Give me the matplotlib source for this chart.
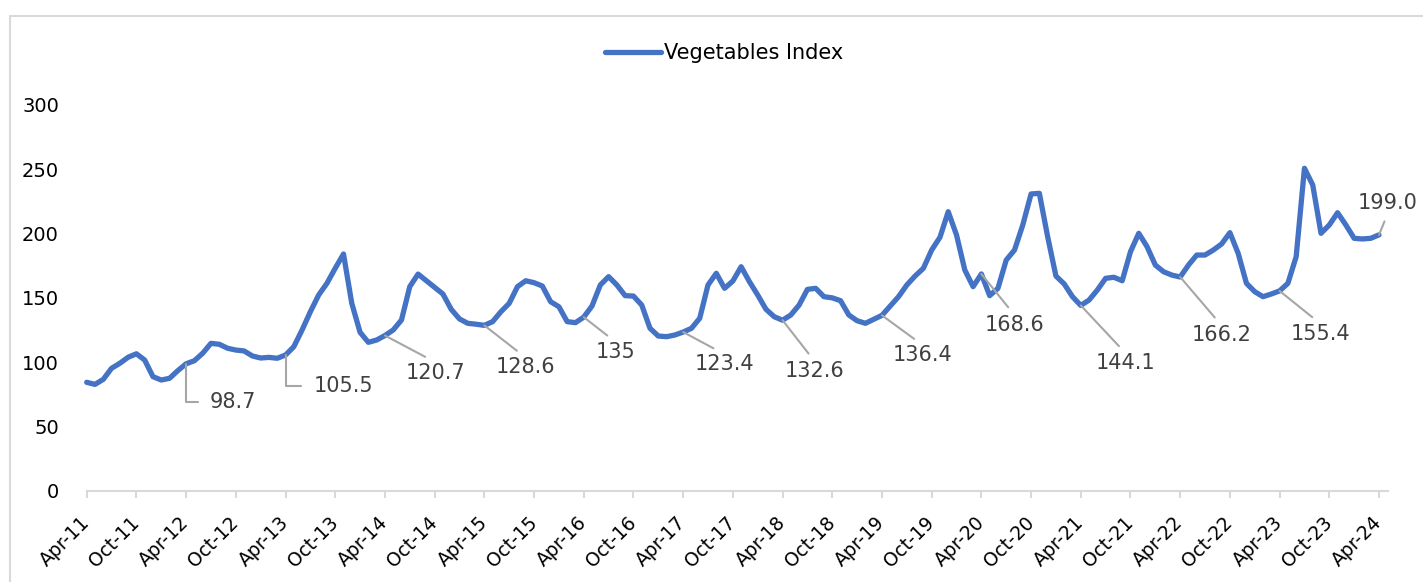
import pandas as pd
import matplotlib
matplotlib.use("Agg")
import matplotlib.pyplot as plt
from matplotlib.patches import Rectangle

# monthly vegetables index, Apr-2011 .. Apr-2024
months = pd.date_range("2011-04-01", periods=157, freq="MS")
veg_index = [
    84.3, 82.7, 86.6, 95.2, 99.1, 103.8, 106.5, 101.6, 88.7, 86.1, 87.4, 93.4,
    98.7, 101.1, 106.9, 114.6, 113.9, 110.8, 109.4, 108.7, 104.8, 103.2, 103.7, 103.0,
    105.5, 112.0, 125.0, 139.2, 152.2, 161.3, 173.0, 184.1, 145.7, 123.2, 115.4, 117.2,
    120.7, 125.0, 132.8, 158.7, 168.5, 163.3, 158.2, 153.0, 141.1, 133.6, 130.2, 129.5,
    128.6, 131.5, 139.2, 145.7, 158.7, 163.3, 161.8, 159.2, 147.0, 143.1, 131.5, 130.7,
    135.0, 143.7, 160.0, 166.5, 160.0, 151.7, 151.4, 144.4, 126.3, 120.3, 119.8, 121.1,
    123.4, 126.3, 134.1, 160.0, 169.1, 157.4, 163.1, 174.2, 162.6, 152.2, 141.1, 135.3,
    132.6, 136.7, 144.4, 156.6, 157.4, 150.9, 150.0, 147.8, 136.7, 132.2, 130.2, 133.3,
    136.4, 143.7, 150.9, 160.0, 167.0, 173.0, 187.2, 197.1, 217.0, 198.9, 171.7, 158.7,
    168.6, 151.7, 157.4, 179.4, 187.2, 206.7, 230.8, 231.3, 197.6, 167.0, 160.8, 150.9,
    144.1, 148.3, 156.1, 165.2, 166.0, 163.3, 185.9, 200.2, 189.8, 175.5, 170.3, 167.7,
    166.2, 175.5, 183.3, 183.3, 187.2, 191.9, 200.7, 184.6, 161.3, 154.8, 150.9, 153.0,
    155.4, 161.3, 182.0, 250.8, 237.8, 200.2, 206.7, 216.2, 206.7, 196.3, 195.8, 196.3,
    199.0,
]

# labelled points (month index, label text)
label_idx = [12, 24, 36, 48, 60, 72, 84, 96, 108, 120, 132, 144, 156]
label_txt = ["98.7", "105.5", "120.7", "128.6", "135", "123.4", "132.6",
             "136.4", "168.6", "144.1", "166.2", "155.4", "199.0"]

# label placement: offset in pixels of text from point
label_off = [(24, -38), (28, -31), (51, -37), (41, -42), (32, -35), (41, -32),
             (32, -51), (41, -40), (33, -51), (45, -58), (41, -58), (41, -43),
             (9, 32)]

tick_pos = list(range(0, 157, 6))
tick_lab = [months[i].strftime("%b-%y") for i in tick_pos]

W, H = 1423, 582
fig = plt.figure(figsize=(W / 100, H / 100), dpi=100)
ax = fig.add_axes([86.7 / W, 1 - 490.7 / H, (1387.7 - 86.7) / W, (490.7 - 105) / H])

x = list(range(len(veg_index)))
line, = ax.plot(x, veg_index, color="#4472C4", lw=3.8, solid_joinstyle="round",
                solid_capstyle="round", label="Vegetables Index", clip_on=False)

ax.set_xlim(0, 157.05)
ax.set_ylim(0, 300)
ax.set_yticks(range(0, 301, 50))
ax.set_xticks(tick_pos)
ax.set_xticklabels(tick_lab, rotation=45, ha="right", va="center",
                   rotation_mode="anchor", fontsize=13.5, color="#000000")
ax.tick_params(axis="y", length=0, pad=20, labelsize=14, labelcolor="#000000")
ax.tick_params(axis="x", length=5, width=1.5, color="#D9D9D9", pad=16)
for s in ["top", "right", "left"]:
    ax.spines[s].set_visible(False)
ax.spines["bottom"].set_color("#D9D9D9")
ax.spines["bottom"].set_linewidth(1.5)

for i, txt, (dx, dy) in zip(label_idx, label_txt, label_off):
    if i in (12, 24):
        # elbow leader: down from the point, then across to the text
        ax.annotate(txt, xy=(i, veg_index[i]), xytext=(dx, dy),
                    textcoords="offset pixels", ha="left", va="center",
                    fontsize=15, color="#404040",
                    arrowprops=dict(arrowstyle="-", color="#A6A6A6", lw=1.5,
                                    relpos=(0, 0.5), shrinkA=7, shrinkB=0,
                                    connectionstyle="angle,angleA=0,angleB=90,rad=0"))
    elif i == 156:
        ax.annotate(txt, xy=(i, veg_index[i]), xytext=(dx, dy),
                    textcoords="offset pixels", ha="center", va="center",
                    fontsize=15, color="#404040", annotation_clip=False,
                    arrowprops=dict(arrowstyle="-", color="#A6A6A6", lw=1.5,
                                    relpos=(0.5, 0), shrinkA=4.5, shrinkB=0))
    else:
        ax.annotate(txt, xy=(i, veg_index[i]), xytext=(dx, dy),
                    textcoords="offset pixels", ha="center", va="center",
                    fontsize=15, color="#404040",
                    arrowprops=dict(arrowstyle="-", color="#A6A6A6", lw=1.5,
                                    relpos=(0.5, 1), shrinkA=4.5, shrinkB=0))

fig.legend(handles=[line], loc="center", bbox_to_anchor=(724 / W, 1 - 53 / H),
           frameon=False, fontsize=15, handlelength=2.7, handletextpad=0.1)

# chart area border (cropped on the right and bottom)
fig.add_artist(Rectangle((10 / W, -0.1), 1.2, 1.1 - 16 / H, transform=fig.transFigure,
                         fill=False, edgecolor="#D9D9D9", lw=1.5))

fig.savefig("out.png", dpi=100)
